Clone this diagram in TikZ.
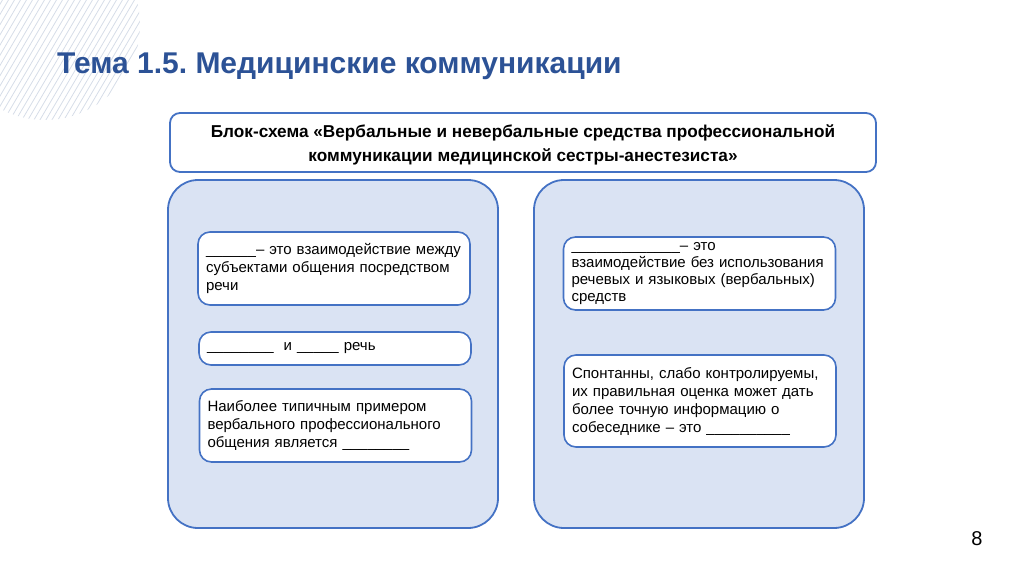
\documentclass[tikz,border=0pt]{standalone}
\usepackage{fontspec}
\setmainfont{Liberation Sans}
\usepackage{tikz}
\usepackage{xcolor}
\definecolor{titleblue}{RGB}{44,82,150}
\definecolor{frameblue}{RGB}{68,114,196}
\definecolor{panelfill}{RGB}{218,227,243}
\definecolor{hatchgray}{RGB}{214,221,232}
\frenchspacing

\begin{document}
\begin{tikzpicture}[
    x=1pt, y=-1pt,
    panel/.style={draw=frameblue, line width=1.8pt, fill=panelfill, rounded corners=30pt, minimum width=330pt, minimum height=348pt},
    card/.style={draw=frameblue, line width=1.6pt, fill=white, rounded corners=12pt, minimum width=272pt, text width=256pt, align=left, inner sep=0pt, font=\fontsize{15}{18}\selectfont},
    heading/.style={draw=frameblue, line width=1.8pt, fill=white, rounded corners=10pt, minimum width=706pt, minimum height=59pt, align=center, font=\fontsize{17.2}{24}\selectfont\bfseries}
]
\useasboundingbox (0,0) rectangle (1024,574);

% hatched circle
\begin{scope}
\clip (45,25) circle (95);
\foreach \s in {-260,-254,...,200}
    \draw[hatchgray, line width=0.8pt] (\s,130) -- (\s+100,-40);
\end{scope}

% title
\node[anchor=base west, text=titleblue, font=\fontsize{30}{34}\selectfont\bfseries, inner sep=0pt] (title) at (57,73) {Тема 1.5. Медицинские коммуникации};

% header
\node[heading] (head) at (523,142.5) {\rule{0pt}{18pt}Блок-схема «Вербальные и невербальные средства профессиональной\\коммуникации медицинской сестры-анестезиста»};

% panels
\node[panel] (verbal) at (333,354) {};
\node[panel] (nonverbal) at (699,354) {};

% left cards
\node[card, minimum height=73pt] (vdef) at (334,268.5) {\_\_\_\_\_\_– это взаимодействие между\\субъектами общения посредством\\речи};
\node[card, minimum height=33pt] (vkind) at (335,348.5) {\_\_\_\_\_\_\_\_\ \ и \_\_\_\_\_ речь};
\node[card, minimum height=73pt] (vexample) at (335.5,425.5) {Наиболее типичным примером\\вербального профессионального\\общения является \_\_\_\_\_\_\_\_};

% right cards
\node[card, minimum height=73pt, font=\fontsize{15}{17.3}\selectfont] (ndef) at (699.5,273.5) {\_\_\_\_\_\_\_\_\_\_\_\_\_– это\\взаимодействие без использования\\речевых и языковых (вербальных)\\средств};
\node[card, minimum height=92pt] (nsign) at (700,401) {Спонтанны, слабо контролируемы,\\их правильная оценка может дать\\более точную информацию о\\собеседнике – это \_\_\_\_\_\_\_\_\_\_};

% page number
\node[font=\fontsize{20}{24}\selectfont, inner sep=0pt] (page) at (977,539) {8};
\end{tikzpicture}
\end{document}
